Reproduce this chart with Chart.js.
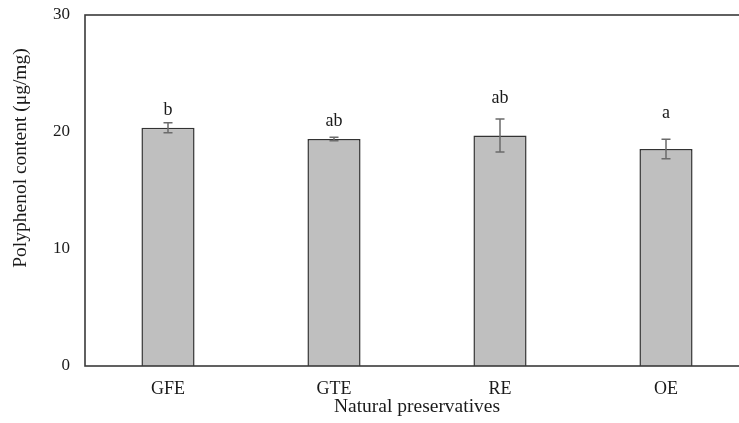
<!DOCTYPE html>
<html>
<head>
<meta charset="utf-8">
<script src="https://cdn.jsdelivr.net/npm/chart.js@4/dist/chart.umd.min.js"></script>
<style>
  html, body { margin: 0; padding: 0; background: #fff; overflow: hidden; }
  #wrap { width: 739px; height: 423px; overflow: hidden; }
</style>
</head>
<body>
<div id="wrap"><canvas id="c" width="749" height="423"></canvas></div>
<script>
const categories = ['GFE', 'GTE', 'RE', 'OE'];
const polyphenol = [20.37, 19.40, 19.70, 18.55];
const errors = [0.43, 0.15, 1.42, 0.83];
const letters = ['b', 'ab', 'ab', 'a'];
const letterPos = [21.88, 20.88, 22.88, 21.6];
const yTicks = [0, 10, 20, 30];
const yTitle = 'Polyphenol content (μg/mg)';
const xTitle = 'Natural preservatives';

const FONT = '"Liberation Serif", "Times New Roman", serif';
const TEXT = '#1a1a1a';

const extras = {
  id: 'extras',
  afterDatasetsDraw(chart) {
    const ctx = chart.ctx;
    const y = chart.scales.y;
    const meta = chart.getDatasetMeta(0);
    ctx.save();
    // error bars
    ctx.strokeStyle = '#6b6b6b';
    ctx.lineWidth = 1.5;
    meta.data.forEach((bar, i) => {
      const x = bar.x;
      const yT = y.getPixelForValue(polyphenol[i] + errors[i]);
      const yB = y.getPixelForValue(polyphenol[i] - errors[i]);
      ctx.beginPath();
      ctx.moveTo(x, yT); ctx.lineTo(x, yB);
      ctx.moveTo(x - 4.5, yT); ctx.lineTo(x + 4.5, yT);
      ctx.moveTo(x - 4.5, yB); ctx.lineTo(x + 4.5, yB);
      ctx.stroke();
    });
    // letters
    ctx.fillStyle = TEXT;
    ctx.font = '18px ' + FONT;
    ctx.textAlign = 'center';
    ctx.textBaseline = 'middle';
    meta.data.forEach((bar, i) => {
      ctx.fillText(letters[i], bar.x, y.getPixelForValue(letterPos[i]));
    });
    // frame
    const a = chart.chartArea;
    ctx.strokeStyle = '#3a3a3a';
    ctx.lineWidth = 1.6;
    ctx.strokeRect(a.left, a.top, a.right - a.left, a.bottom - a.top);
    // y title
    ctx.save();
    ctx.translate(21, 158);
    ctx.rotate(-Math.PI / 2);
    ctx.font = '19.5px ' + FONT;
    ctx.fillStyle = TEXT;
    ctx.textAlign = 'center';
    ctx.textBaseline = 'middle';
    ctx.fillText(yTitle, 0, 0);
    ctx.restore();
    ctx.restore();
  }
};

new Chart(document.getElementById('c'), {
  type: 'bar',
  data: {
    labels: categories,
    datasets: [{
      data: polyphenol,
      backgroundColor: '#bfbfbf',
      borderColor: '#333333',
      borderWidth: 1.5,
      categoryPercentage: 1.0,
      barPercentage: 0.32
    }]
  },
  options: {
    responsive: false,
    devicePixelRatio: 1,
    animation: false,
    layout: { padding: { top: 15, left: 0, right: 0, bottom: 0 } },
    plugins: { legend: { display: false }, tooltip: { enabled: false } },
    scales: {
      x: {
        grid: { display: false, drawTicks: false },
        border: { display: false },
        ticks: { color: TEXT, font: { family: FONT, size: 18 }, padding: 12 },
        title: { display: true, text: xTitle, color: TEXT,
                 font: { family: FONT, size: 19.5 }, padding: { top: 0, bottom: 4 } },
        afterFit(s) { s.height = 57; s.paddingLeft = 0; s.paddingRight = 0; }
      },
      y: {
        min: 0, max: 30,
        grid: { display: false, drawTicks: false },
        border: { display: false },
        afterBuildTicks(s) { s.ticks = yTicks.map(v => ({ value: v })); },
        ticks: { color: TEXT, font: { family: FONT, size: 17 }, padding: 15 },
        afterFit(s) { s.width = 85; s.paddingTop = 0; s.paddingBottom = 0; }
      }
    }
  },
  plugins: [extras]
});
</script>
</body>
</html>
